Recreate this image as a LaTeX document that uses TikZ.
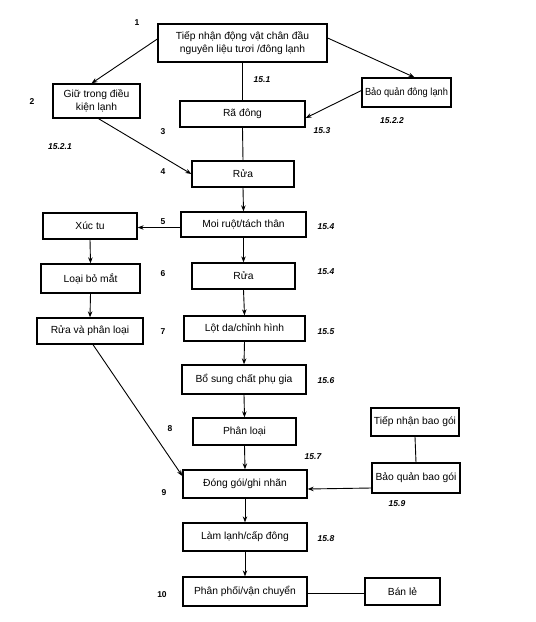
\documentclass[tikz,border=0pt]{standalone}
\usepackage{fontspec}
\setmainfont{Liberation Sans}
\usetikzlibrary{arrows.meta,calc}
\begin{document}
\begin{tikzpicture}[x=1pt,y=-1pt,
  box/.style={draw,line width=1.3pt,rectangle,inner sep=1pt,align=center,font=\fontsize{10.3}{12.5}\selectfont},
  arr/.style={line width=0.9pt,-{Stealth[length=6pt,width=4.5pt]}},
  ln/.style={line width=0.9pt},
  num/.style={font=\fontsize{8.5}{10}\selectfont\bfseries},
  ref/.style={font=\fontsize{8.5}{10}\selectfont\bfseries\itshape}]
\useasboundingbox (0,0) rectangle (536,622);
\fill[white] (0,0) rectangle (536,622);
% boxes
\node[box,minimum width=169pt,minimum height=38pt] (b1) at (242.5,43) {Tiếp nhận động vật chân đầu\\nguyên liệu tươi /đông lạnh};
\node[box,minimum width=87pt,minimum height=34pt] (b2) at (96.5,101) {Giữ trong điều\\kiện lạnh};
\node[box,minimum width=89pt,minimum height=29pt] (bq) at (406.5,92.5) {\scalebox{0.9}[1]{Bảo quản đông lạnh}};
\node[box,minimum width=125pt,minimum height=26pt] (rd) at (242.5,114) {Rã đông};
\node[box,minimum width=102pt,minimum height=26pt] (rua1) at (243,174) {Rửa};
\node[box,minimum width=125pt,minimum height=25pt] (moi) at (243.5,224.5) {Moi ruột/tách thân};
\node[box,minimum width=94pt,minimum height=26pt] (xuc) at (90,226) {Xúc tu};
\node[box,minimum width=99pt,minimum height=29pt] (loai) at (90.5,278.5) {Loại bỏ mắt};
\node[box,minimum width=103pt,minimum height=26pt] (rua2) at (243.5,276) {Rửa};
\node[box,minimum width=106pt,minimum height=26pt] (ruavp) at (90,331) {Rửa và phân loại};
\node[box,minimum width=121pt,minimum height=25pt] (lot) at (244.5,328.5) {Lột da/chỉnh hình};
\node[box,minimum width=124pt,minimum height=29pt] (bs) at (244,379.5) {Bổ sung chất phụ gia};
\node[box,minimum width=103pt,minimum height=27pt] (pl) at (244.5,431.5) {Phân loại};
\node[box,minimum width=88pt,minimum height=28pt] (tnbg) at (415,422) {Tiếp nhận bao gói};
\node[box,minimum width=124pt,minimum height=28pt] (dg) at (245,484) {Đóng gói/ghi nhãn};
\node[box,minimum width=88pt,minimum height=30pt] (bqbg) at (416,478) {Bảo quản bao gói};
\node[box,minimum width=124pt,minimum height=28pt] (ll) at (245,537) {Làm lạnh/cấp đông};
\node[box,minimum width=124pt,minimum height=29pt] (pp) at (245,591.5) {Phân phối/vận chuyển};
\node[box,minimum width=75pt,minimum height=27pt] (bl) at (402.5,591.5) {Bán lẻ};
% connectors
\draw[arr] ($(b1.west)+(0,-4)$) -- ($(b2.north)+(-5,0)$);
\draw[arr] ($(b1.east)+(0,-5)$) -- ($(bq.north)+(8,0)$);
\draw[ln] (b1.south) -- (rd.north);
\draw[arr] ($(bq.west)+(0,-2)$) -- ($(rd.east)+(0,4)$);
\draw[arr] ($(b2.south)+(2,0)$) -- (rua1.west);
\draw[ln] (rd.south) -- (rua1.north);
\draw[arr] (rua1.south) -- (moi.north);
\draw[arr] ($(moi.west)+(0,3)$) -- ($(xuc.east)+(0,1.5)$);
\draw[arr] (xuc.south) -- (loai.north);
\draw[arr] (moi.south) -- (rua2.north);
\draw[arr] (loai.south) -- (ruavp.north);
\draw[arr] (rua2.south) -- (lot.north);
\draw[arr] (lot.south) -- (bs.north);
\draw[arr] (bs.south) -- (pl.north);
\draw[arr] (pl.south) -- (dg.north);
\draw[arr] ($(ruavp.south)+(3,0)$) -- ($(dg.west)+(0,-8)$);
\draw[ln] (tnbg.south) -- (bqbg.north);
\draw[arr] ($(bqbg.west)+(0,10)$) -- ($(dg.east)+(0,5)$);
\draw[arr] (dg.south) -- (ll.north);
\draw[arr] (ll.south) -- (pp.north);
\draw[ln] ($(pp.east)+(0,1.5)$) -- ($(bl.west)+(0,1.5)$);
% step numbers
\node[num] (n1) at (137,23) {1};
\node[num] (n2) at (32,102) {2};
\node[num] (n3) at (163,132) {3};
\node[num] (n4) at (163,172) {4};
\node[num] (n5) at (163,222) {5};
\node[num] (n6) at (163,274) {6};
\node[num] (n7) at (163,332) {7};
\node[num] (n8) at (170,429) {8};
\node[num] (n9) at (164,493) {9};
\node[num] (n10) at (162,595) {10};
% references
\node[ref] (r1) at (262,80) {15.1};
\node[ref] (r22) at (392,121) {15.2.2};
\node[ref] (r3) at (322,131) {15.3};
\node[ref] (r21) at (60,147) {15.2.1};
\node[ref] (r4a) at (326,227) {15.4};
\node[ref] (r4b) at (326,272) {15.4};
\node[ref] (r5) at (326,332) {15.5};
\node[ref] (r6) at (326,381) {15.6};
\node[ref] (r7) at (313,457) {15.7};
\node[ref] (r9) at (397,504) {15.9};
\node[ref] (r8) at (326,539) {15.8};
\end{tikzpicture}
\end{document}
